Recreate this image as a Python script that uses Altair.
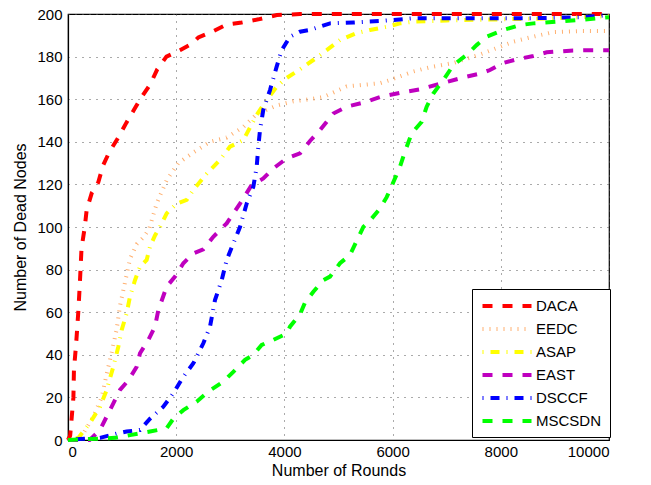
import altair as alt
import pandas as pd

names = ["DACA", "EEDC", "ASAP", "EAST", "DSCCF", "MSCSDN"]
colors = ["#FF0000", "#FFB070", "#FFFF00", "#BF00BF", "#0000FF", "#00FF00"]
dashes = [[10, 10], [1, 6], [1, 7, 9, 7], [10, 10], [1, 7, 9, 7], [10, 10]]

daca_x = [0, 40, 70, 100, 110, 150, 190, 220, 250, 310, 345, 440, 560, 650, 760, 930, 1080, 1220, 1360, 1520, 1650, 1820, 2070, 2290, 2410, 2690, 2930, 3210, 3520, 3860, 4290, 10000]
daca_y = [0, 2, 11, 20, 33, 45, 60, 74, 90, 100, 108, 116, 121, 129, 135, 142, 149, 155, 161, 167, 174, 180, 183, 186, 189, 192, 195, 196, 197.5, 199.5, 200, 200]

eedc_x = [0, 200, 283, 468, 622, 715, 807, 900, 961, 1054, 1146, 1270, 1390, 1500, 1639, 1824, 2039, 2317, 2625, 2933, 3241, 3488, 3857, 4165, 4473, 4720, 5152, 5767, 5952, 6383, 6691, 7122, 7615, 7924, 8232, 8540, 8971, 9464, 10000]
eedc_y = [0, 0, 3, 11, 20, 31, 41, 52, 63, 74, 85, 92, 95, 99, 111, 122, 130, 135, 140, 142, 147, 153, 157, 159, 160, 161, 166, 167.5, 169, 173, 175, 177, 181, 184, 187, 189, 191.5, 192, 192]

asap_x = [0, 190, 407, 592, 715, 838, 930, 992, 1084, 1146, 1238, 1331, 1454, 1516, 1608, 1700, 1824, 2009, 2194, 2317, 2563, 2810, 2994, 3241, 3488, 3672, 3857, 4042, 4288, 4535, 4782, 5028, 5336, 5582, 5891, 6137, 6383, 7000, 8000, 9000, 10000]
asap_y = [0, 1, 8, 15.6, 23.5, 34.4, 43.8, 51.6, 59.5, 67.3, 75, 81.4, 84.5, 90.8, 96, 100, 106.4, 111, 112.7, 117.4, 125, 131.5, 137.7, 140.8, 152.6, 159.6, 165.9, 170, 174, 178.4, 183, 187.8, 191, 192.5, 194, 195.6, 196.4, 197, 197.5, 198, 199]

east_x = [0, 400, 592, 715, 838, 961, 1115, 1270, 1331, 1485, 1608, 1670, 1824, 1978, 2132, 2317, 2501, 2686, 2933, 3179, 3395, 3610, 3795, 4042, 4288, 4473, 4658, 4904, 5152, 5459, 5767, 6137, 6506, 6937, 7307, 7615, 7800, 8017, 8294, 8602, 8848, 9279, 9649, 10000]
east_y = [0, 0, 4.7, 11, 17.2, 23.5, 28, 34.4, 40.7, 47, 53.2, 61, 72, 76.7, 83, 87.6, 89.5, 95.4, 101.7, 111, 119.7, 122.8, 127.5, 132.2, 134.6, 140.4, 145.5, 153.3, 156.5, 158.4, 161, 163, 164.6, 167.7, 170.2, 172, 173.7, 176.8, 178.7, 180.3, 182, 182.8, 183, 183]

dsccf_x = [0, 222, 592, 900, 1084, 1331, 1516, 1762, 1947, 2132, 2317, 2501, 2625, 2717, 2841, 2933, 3056, 3179, 3303, 3426, 3488, 3518, 3549, 3610, 3734, 3857, 3949, 4103, 4288, 4473, 4843, 5274, 5767, 6383, 7500, 8500, 9500, 10000]
dsccf_y = [0, 0.5, 1, 3, 4, 4.7, 10, 15.6, 22, 29.7, 36, 45.4, 53.2, 65.7, 75, 84.5, 92.3, 100, 111, 118.9, 128.3, 137.7, 145.5, 155, 164.3, 175.3, 183, 189.3, 191.7, 192.5, 195.6, 196, 196.7, 198, 198, 198, 198.5, 199.5]

mscsdn_x = [0, 869, 1146, 1516, 1824, 1947, 2132, 2378, 2594, 2871, 3056, 3272, 3426, 3580, 3795, 4042, 4103, 4288, 4381, 4535, 4720, 4843, 5028, 5213, 5336, 5459, 5582, 5767, 5891, 6013, 6137, 6229, 6353, 6538, 6630, 6753, 6937, 7122, 7368, 7553, 7738, 8048, 8355, 8602, 9033, 9464, 10000]
mscsdn_y = [0, 1, 2.3, 4, 5.5, 10, 14, 18, 22.7, 27.4, 32, 37.6, 40, 44.6, 47, 50, 53.2, 59, 64.5, 69.6, 75, 76.7, 83, 86.9, 93.5, 100, 103, 108.7, 114, 121, 128.3, 135.4, 144, 149.4, 156.5, 162.7, 169, 176, 180.8, 185.4, 189.3, 192.5, 194.8, 195.6, 196.4, 197.2, 198.5]

x_ticks = [0, 2000, 4000, 6000, 8000, 10000]
y_ticks = [0, 20, 40, 60, 80, 100, 120, 140, 160, 180, 200]

series = [(daca_x, daca_y), (eedc_x, eedc_y), (asap_x, asap_y),
          (east_x, east_y), (dsccf_x, dsccf_y), (mscsdn_x, mscsdn_y)]
rows = []
for i, (nm, (xs, ys)) in enumerate(zip(names, series)):
    for j, (xv, yv) in enumerate(zip(xs, ys)):
        rows.append({"series": nm, "rounds": xv, "dead": yv, "k": i, "idx": j})
df = pd.DataFrame(rows)

FONT = "Liberation Sans"

legend = alt.Legend(
    title=None, orient="none", legendX=404, legendY=275,
    symbolType="M-3.5,0H3.5", symbolSize=196, symbolStrokeWidth=4,
    symbolOffset=18,
    labelFont=FONT, labelFontSize=15, labelColor="black", labelOffset=20,
    strokeColor="black", fillColor="white", padding=8, rowPadding=6,
    cornerRadius=0,
)

chart = alt.Chart(df).mark_line(strokeWidth=4, strokeCap="butt").encode(
    x=alt.X("rounds:Q", scale=alt.Scale(domain=[0, 10000], nice=False),
            axis=alt.Axis(values=x_ticks, format="d", title="Number of Rounds",
                          titlePadding=3, labelPadding=4)),
    y=alt.Y("dead:Q", scale=alt.Scale(domain=[0, 200], nice=False),
            axis=alt.Axis(values=y_ticks, format="d", title="Number of Dead Nodes",
                          titlePadding=8)),
    color=alt.Color("series:N", scale=alt.Scale(domain=names, range=colors),
                    sort=names, legend=legend),
    strokeDash=alt.StrokeDash("series:N", scale=alt.Scale(domain=names, range=dashes),
                              sort=names, legend=legend),
    order=alt.Order("idx:Q"),
).properties(
    width=541, height=426,
    padding={"left": 60, "top": 6, "right": 30, "bottom": 43},
    autosize=alt.AutoSizeParams(type="none"),
    background="white",
).configure_view(
    stroke="black", strokeWidth=1.2
).configure_axis(
    labelFont=FONT, labelFontSize=15, labelColor="black",
    titleFont=FONT, titleFontSize=16, titleFontWeight="normal", titleColor="black",
    domainColor="black", domainWidth=1.2, ticks=False, labelPadding=6,
    grid=True, gridColor="#555555", gridDash=[1, 6], gridWidth=1, gridOpacity=1,
)

chart.save("out.html", embed_options={"renderer": "svg", "actions": False})
